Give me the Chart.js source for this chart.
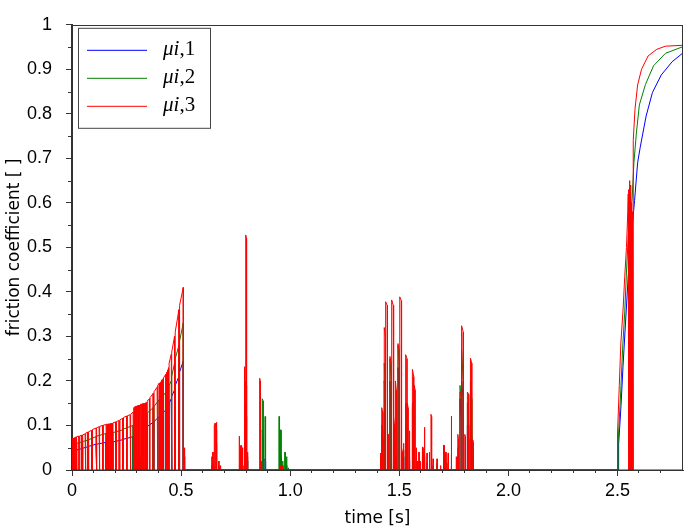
<!DOCTYPE html>
<html>
<head>
<meta charset="utf-8">
<script src="https://cdn.jsdelivr.net/npm/chart.js@4.4.0/dist/chart.umd.min.js"></script>
<style>
  html, body { margin: 0; padding: 0; background: #fff; }
</style>
</head>
<body>
<canvas id="frictionChart" width="685" height="532"></canvas>
<script>
// each segment: [t start, t end, value at start, value at end]; the trace sits at 0 between segments
const mu1Segments = [
  [0.002,0.0035,0.010,0.010],[0.010,0.0115,0.020,0.020],[0.018,0.0195,0.015,0.015],
  [0.022,0.045,0.045,0.048],[0.049,0.072,0.049,0.052],[0.076,0.110,0.053,0.058],
  [0.114,0.156,0.058,0.062],[0.176,0.1775,0.015,0.015],[0.188,0.232,0.063,0.068],
  [0.236,0.280,0.069,0.075],[0.300,0.3015,0.015,0.015],[0.324,0.3255,0.020,0.020],
  [0.345,0.372,0.098,0.107],[0.376,0.400,0.109,0.120],[0.412,0.4135,0.020,0.020],
  [0.420,0.430,0.130,0.135],[0.441,0.4425,0.025,0.025],[0.445,0.455,0.150,0.160],
  [0.458,0.470,0.165,0.180],[0.473,0.490,0.190,0.210],[0.493,0.510,0.220,0.245],
  [0.515,0.5165,0.030,0.030],
  [0.640,0.6415,0.005,0.005],[0.645,0.6465,0.015,0.015],[0.660,0.664,0.060,0.055],
  [0.672,0.6735,0.010,0.010],[0.770,0.7715,0.012,0.012],[0.782,0.7835,0.010,0.010],
  [0.796,0.800,0.150,0.120],[0.804,0.8055,0.020,0.020],[0.872,0.876,0.090,0.070],
  [0.884,0.887,0.025,0.020],[0.955,0.958,0.035,0.030],[0.965,0.9665,0.010,0.010],
  [0.982,0.985,0.010,0.010],
  [1.414,1.418,0.025,0.020],[1.420,1.424,0.080,0.070],[1.431,1.436,0.200,0.150],
  [1.457,1.463,0.200,0.110],[1.475,1.478,0.070,0.070],[1.482,1.486,0.020,0.020],
  [1.494,1.500,0.230,0.170],[1.511,1.514,0.030,0.030],[1.518,1.521,0.030,0.030],
  [1.529,1.535,0.100,0.050],[1.545,1.548,0.020,0.020],[1.560,1.566,0.140,0.110],
  [1.577,1.579,0.020,0.020],[1.583,1.585,0.020,0.020],[1.595,1.597,0.015,0.015],
  [1.606,1.609,0.030,0.030],[1.626,1.628,0.015,0.015],[1.637,1.639,0.010,0.010],
  [1.654,1.656,0.010,0.010],[1.703,1.706,0.020,0.020],[1.723,1.725,0.015,0.015],
  [1.737,1.740,0.010,0.010],[1.768,1.771,0.030,0.030],[1.778,1.784,0.160,0.110],
  [1.786,1.793,0.200,0.160],[1.812,1.818,0.100,0.070],[1.826,1.832,0.160,0.070],
  [1.837,1.840,0.020,0.020]
];
const mu2Segments = [
  [0.010,0.0115,0.030,0.030],[0.022,0.045,0.060,0.063],[0.049,0.072,0.064,0.067],
  [0.076,0.110,0.068,0.075],[0.114,0.156,0.076,0.082],[0.168,0.1695,0.020,0.020],
  [0.188,0.232,0.084,0.090],[0.236,0.280,0.092,0.100],[0.296,0.2975,0.020,0.020],
  [0.312,0.3135,0.030,0.030],[0.345,0.372,0.128,0.140],[0.376,0.400,0.143,0.158],
  [0.408,0.4095,0.030,0.030],[0.420,0.430,0.168,0.175],[0.437,0.4385,0.040,0.040],
  [0.445,0.455,0.190,0.200],[0.458,0.470,0.210,0.240],[0.473,0.490,0.250,0.280],
  [0.493,0.510,0.290,0.330],[0.515,0.5165,0.030,0.030],
  [0.640,0.6415,0.010,0.010],[0.645,0.6465,0.015,0.015],[0.660,0.664,0.090,0.080],
  [0.672,0.6735,0.020,0.020],[0.774,0.7755,0.010,0.010],[0.796,0.800,0.200,0.190],
  [0.804,0.8055,0.030,0.030],[0.872,0.876,0.160,0.155],[0.884,0.887,0.120,0.120],
  [0.948,0.951,0.120,0.120],[0.955,0.958,0.090,0.090],[0.965,0.9665,0.020,0.020],
  [0.975,0.977,0.040,0.040],[0.982,0.985,0.030,0.030],[0.990,0.9915,0.005,0.005],
  [1.414,1.418,0.030,0.030],[1.420,1.424,0.100,0.090],[1.431,1.436,0.240,0.200],
  [1.457,1.463,0.250,0.200],[1.475,1.478,0.090,0.090],[1.482,1.486,0.030,0.030],
  [1.494,1.500,0.280,0.230],[1.511,1.514,0.040,0.040],[1.518,1.521,0.045,0.045],
  [1.529,1.535,0.150,0.100],[1.545,1.548,0.030,0.030],[1.560,1.566,0.150,0.100],
  [1.577,1.579,0.030,0.030],[1.589,1.591,0.020,0.020],[1.606,1.609,0.040,0.040],
  [1.614,1.617,0.030,0.030],[1.637,1.639,0.020,0.020],[1.672,1.674,0.015,0.015],
  [1.703,1.706,0.055,0.040],[1.712,1.714,0.020,0.020],[1.737,1.740,0.030,0.030],
  [1.768,1.771,0.050,0.050],[1.778,1.784,0.190,0.150],[1.786,1.793,0.270,0.200],
  [1.812,1.818,0.150,0.100],[1.826,1.832,0.200,0.160],[1.837,1.840,0.030,0.030]
];
const mu3Segments = [
  [0.002,0.0035,0.072,0.072],[0.006,0.0075,0.072,0.072],[0.010,0.0115,0.073,0.073],
  [0.014,0.0155,0.073,0.073],[0.018,0.0195,0.074,0.074],[0.022,0.032,0.075,0.076],
  [0.036,0.045,0.077,0.078],[0.049,0.060,0.079,0.081],[0.064,0.072,0.083,0.085],
  [0.076,0.090,0.086,0.089],[0.094,0.110,0.091,0.094],[0.114,0.124,0.095,0.097],
  [0.128,0.140,0.098,0.100],[0.144,0.156,0.101,0.102],[0.160,0.1615,0.103,0.103],
  [0.164,0.1655,0.103,0.103],[0.168,0.1695,0.104,0.104],[0.172,0.1735,0.104,0.104],
  [0.176,0.1775,0.105,0.105],[0.180,0.1815,0.105,0.105],[0.184,0.1855,0.105,0.105],
  [0.188,0.200,0.106,0.108],[0.204,0.216,0.109,0.111],[0.220,0.232,0.113,0.116],
  [0.236,0.250,0.118,0.121],[0.254,0.266,0.122,0.124],[0.270,0.280,0.125,0.130],
  [0.284,0.2855,0.140,0.140],[0.288,0.2895,0.142,0.142],[0.292,0.2935,0.143,0.143],
  [0.296,0.2975,0.144,0.144],[0.300,0.3015,0.145,0.145],[0.304,0.3055,0.146,0.146],
  [0.308,0.3095,0.146,0.146],[0.312,0.3135,0.147,0.147],[0.316,0.3175,0.148,0.148],
  [0.320,0.3215,0.148,0.148],[0.324,0.3255,0.149,0.149],[0.328,0.3295,0.150,0.150],
  [0.332,0.3335,0.150,0.150],[0.336,0.3375,0.151,0.151],[0.340,0.3415,0.152,0.152],
  [0.345,0.355,0.155,0.160],[0.358,0.372,0.163,0.172],[0.376,0.390,0.176,0.186],
  [0.394,0.400,0.190,0.195],[0.404,0.4055,0.198,0.198],[0.408,0.4095,0.200,0.200],
  [0.412,0.4135,0.202,0.202],[0.416,0.4175,0.204,0.204],[0.420,0.430,0.207,0.215],
  [0.433,0.4345,0.220,0.220],[0.437,0.4385,0.225,0.225],[0.441,0.4425,0.230,0.230],
  [0.445,0.455,0.240,0.260],[0.458,0.470,0.265,0.300],[0.473,0.490,0.310,0.360],
  [0.493,0.510,0.370,0.410],[0.515,0.5165,0.050,0.050],
  [0.640,0.6415,0.030,0.030],[0.645,0.6465,0.040,0.040],[0.652,0.656,0.100,0.105],
  [0.660,0.664,0.107,0.100],[0.672,0.6735,0.020,0.020],[0.680,0.6815,0.010,0.010],
  [0.766,0.7675,0.076,0.076],[0.770,0.7715,0.050,0.050],[0.774,0.7755,0.055,0.055],
  [0.778,0.7795,0.050,0.050],[0.782,0.7835,0.048,0.048],[0.790,0.7915,0.232,0.232],
  [0.796,0.800,0.528,0.520],[0.804,0.8055,0.040,0.040],[0.860,0.863,0.206,0.200],
  [0.868,0.8695,0.020,0.020],[0.955,0.9565,0.010,0.010],[0.965,0.9665,0.010,0.010],
  [1.414,1.418,0.038,0.035],[1.420,1.424,0.140,0.130],[1.431,1.436,0.320,0.300],
  [1.438,1.444,0.378,0.370],[1.4445,1.446,0.100,0.100],[1.448,1.4495,0.080,0.080],
  [1.457,1.463,0.255,0.240],[1.466,1.472,0.382,0.370],[1.475,1.478,0.120,0.100],
  [1.482,1.486,0.200,0.180],[1.494,1.500,0.284,0.270],[1.503,1.509,0.389,0.380],
  [1.511,1.514,0.050,0.040],[1.518,1.521,0.060,0.050],[1.529,1.535,0.259,0.250],
  [1.537,1.540,0.150,0.140],[1.545,1.548,0.088,0.080],[1.560,1.566,0.226,0.210],
  [1.569,1.572,0.190,0.180],[1.577,1.579,0.050,0.040],[1.583,1.585,0.020,0.020],
  [1.589,1.591,0.040,0.040],[1.595,1.597,0.020,0.020],[1.606,1.609,0.052,0.050],
  [1.614,1.617,0.096,0.090],[1.626,1.628,0.038,0.038],[1.637,1.639,0.040,0.040],
  [1.645,1.648,0.125,0.120],[1.654,1.656,0.025,0.025],[1.672,1.674,0.025,0.025],
  [1.688,1.690,0.010,0.010],[1.703,1.706,0.056,0.055],[1.712,1.714,0.040,0.040],
  [1.723,1.725,0.038,0.038],[1.737,1.740,0.121,0.115],[1.760,1.762,0.030,0.030],
  [1.768,1.771,0.080,0.070],[1.778,1.784,0.175,0.170],[1.786,1.793,0.324,0.310],
  [1.800,1.803,0.080,0.075],[1.812,1.818,0.175,0.170],[1.826,1.832,0.251,0.240],
  [1.837,1.840,0.067,0.060]
];

// final rise (stick -> slip), [t, value]
const mu1Tail = [
  [2.505,0],[2.505,0.058],[2.516,0.145],[2.525,0.232],[2.536,0.326],[2.548,0.427],
  [2.56,0.507],[2.578,0.605],[2.592,0.69],[2.604,0.725],[2.631,0.795],[2.66,0.848],
  [2.70,0.887],[2.75,0.917],[2.8,0.937]
];
const mu2Tail = [
  [2.503,0],[2.503,0.065],[2.515,0.18],[2.523,0.27],[2.533,0.355],[2.542,0.456],
  [2.55,0.53],[2.567,0.61],[2.575,0.69],[2.586,0.755],[2.6,0.82],[2.628,0.866],
  [2.665,0.908],[2.72,0.936],[2.8,0.951]
];
const mu3Tail = [
  [2.5,0],[2.5,0.083],[2.508,0.19],[2.515,0.283],[2.526,0.366],[2.533,0.435],
  [2.541,0.5],[2.547,0.58],[2.549,0.62],[2.5505,0],[2.552,0.63],[2.5535,0],
  [2.555,0.65],[2.5565,0],[2.558,0.62],[2.5595,0],[2.561,0.64],[2.5625,0],
  [2.564,0.6],[2.5655,0],[2.567,0.58],[2.5685,0],[2.570,0.56],[2.5715,0],
  [2.572,0.74],[2.58,0.81],[2.592,0.865],[2.61,0.9],[2.64,0.93],
  [2.68,0.945],[2.72,0.952],[2.8,0.954]
];

const legendSubs = ['i,1', 'i,2', 'i,3'];
const lineColors = ['#0000ff', '#008000', '#ff0000'];

function buildSeries(segments, tail) {
  const pts = [{ x: 0, y: 0 }];
  segments.forEach(([t0, t1, v0, v1]) => {
    pts.push({ x: t0, y: 0 }, { x: t0, y: v0 }, { x: t1, y: v1 }, { x: t1, y: 0 });
  });
  tail.forEach(([t, v]) => pts.push({ x: t, y: v }));
  return pts;
}

const TICK_FONT = 'Liberation Sans';
const TITLE_FONT = 'DejaVu Sans';
const AXIS = '#333';

// frame, minor ticks and the boxed legend
const framePlugin = {
  id: 'framePlugin',
  afterDatasetsDraw(chart) {
    const { ctx, chartArea: a, scales } = chart;
    ctx.save();
    ctx.strokeStyle = AXIS;
    ctx.lineWidth = 1;
    ctx.strokeRect(Math.round(a.left) - 0.5, Math.round(a.top) + 0.5,
      Math.round(a.right - a.left), Math.round(a.bottom - a.top) - 0.5);

    ctx.beginPath();
    for (let i = 1; i < 28; i++) {
      if (i % 5 === 0) continue;
      const x = Math.round(scales.x.getPixelForValue(i / 10)) - 0.5;
      ctx.moveTo(x, a.bottom); ctx.lineTo(x, a.bottom + 3);
    }
    for (let i = 1; i < 20; i += 2) {
      const y = Math.round(scales.y.getPixelForValue(i / 20)) + 0.5;
      ctx.moveTo(a.left, y); ctx.lineTo(a.left - 4, y);
    }
    ctx.stroke();

    const bx = a.left + 6, by = a.top + 3, bw = 132, bh = 100;
    ctx.fillStyle = '#fff';
    ctx.fillRect(bx, by, bw, bh);
    ctx.strokeStyle = '#444';
    ctx.strokeRect(bx + 0.5, by + 0.5, bw, bh);
    legendSubs.forEach((sub, i) => {
      const y = by + 22.5 + i * 28;
      ctx.strokeStyle = lineColors[i];
      ctx.beginPath();
      ctx.moveTo(bx + 9, y); ctx.lineTo(bx + 69, y);
      ctx.stroke();
      ctx.fillStyle = '#000';
      ctx.textBaseline = 'alphabetic';
      let tx = bx + 85;
      ctx.font = 'italic 21px "Liberation Serif"';
      ctx.fillText('\u03bc' + sub[0], tx, y + 5);
      tx += ctx.measureText('\u03bc' + sub[0]).width;
      ctx.font = '21px "Liberation Serif"';
      ctx.fillText(sub.slice(1), tx, y + 5);
    });
    ctx.restore();
  }
};

const ctx = document.getElementById('frictionChart').getContext('2d');
const frictionChart = new Chart(ctx, {
  type: 'scatter',
  data: {
    datasets: [
      { label: 'mu_i,1', data: buildSeries(mu1Segments, mu1Tail), borderColor: lineColors[0], order: 2 },
      { label: 'mu_i,2', data: buildSeries(mu2Segments, mu2Tail), borderColor: lineColors[1], order: 1 },
      { label: 'mu_i,3', data: buildSeries(mu3Segments, mu3Tail), borderColor: lineColors[2], order: 0 }
    ].map(ds => Object.assign(ds, { showLine: true, pointRadius: 0, borderWidth: 1, tension: 0 }))
  },
  options: {
    responsive: false,
    animation: false,
    devicePixelRatio: 1,
    layout: { padding: { top: 10, right: 2, left: 0, bottom: 0 } },
    plugins: { legend: { display: false }, tooltip: { enabled: false } },
    scales: {
      x: {
        type: 'linear', min: 0, max: 2.8,
        ticks: { stepSize: 0.5, includeBounds: false, color: '#000', padding: 4, maxRotation: 0,
                 font: { family: TICK_FONT, size: 18 } },
        grid: { drawOnChartArea: false, tickLength: 6, tickColor: AXIS },
        border: { color: AXIS },
        title: { display: true, text: 'time [s]', color: '#000', padding: { top: 0, bottom: 3 },
                 font: { family: TITLE_FONT, size: 17 } },
        afterFit: s => { s.height = 62; }
      },
      y: {
        min: 0, max: 1,
        ticks: { stepSize: 0.1, color: '#000', padding: 14, font: { family: TICK_FONT, size: 18 },
                 callback: v => String(Number(v.toFixed(1))) },
        grid: { drawOnChartArea: false, tickLength: 6, tickColor: AXIS },
        border: { color: AXIS },
        title: { display: true, text: 'friction coefficient [ ]', color: '#000', padding: { top: 4, bottom: 0 },
                 font: { family: TITLE_FONT, size: 17 } },
        afterFit: s => { s.width = 72; }
      }
    }
  },
  plugins: [framePlugin]
});
</script>
</body>
</html>
